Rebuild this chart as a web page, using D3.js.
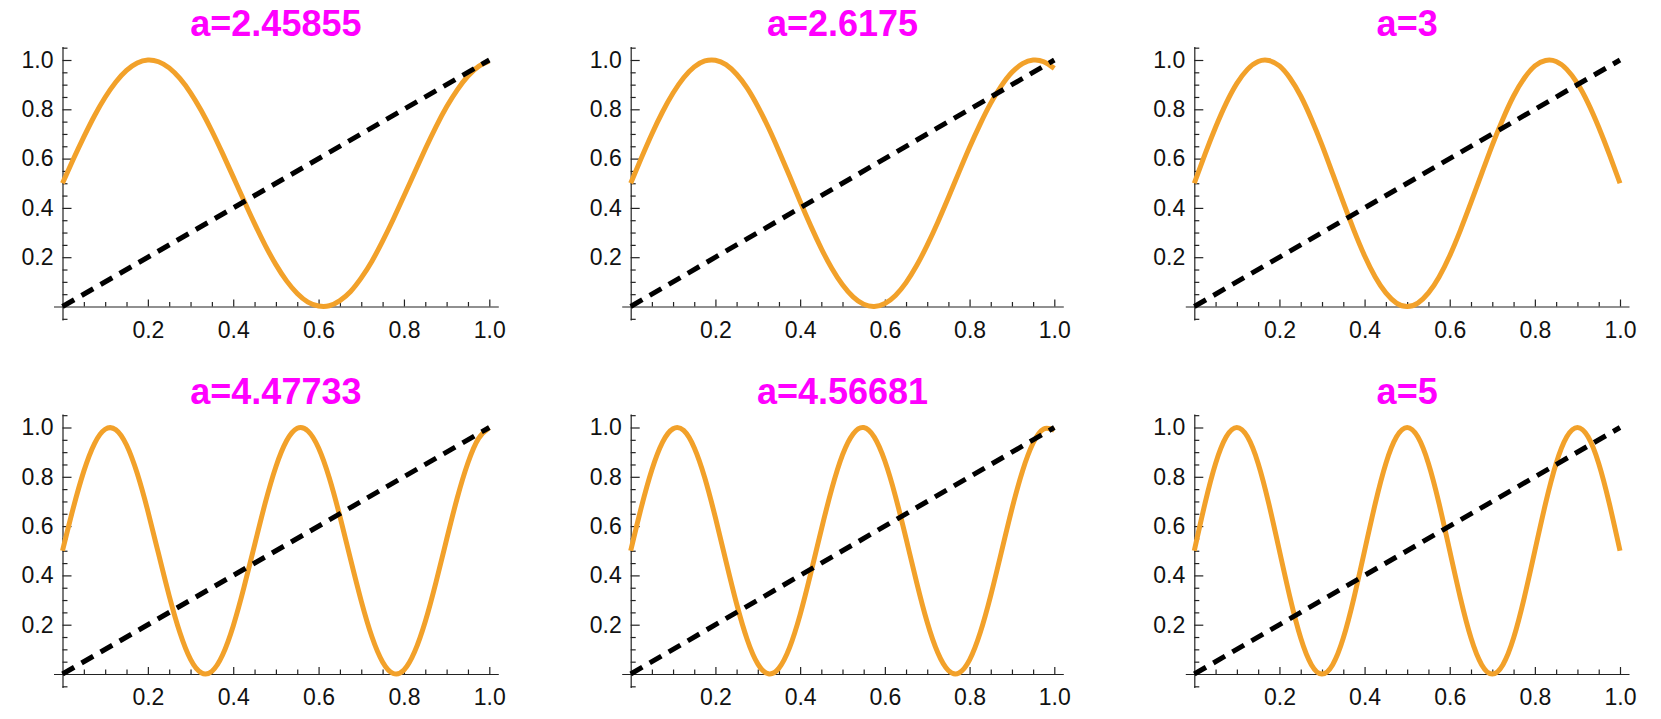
<!DOCTYPE html>
<html>
<head>
<meta charset="utf-8">
<script src="https://cdn.jsdelivr.net/npm/d3@7"></script>
<style>
  body { margin: 0; background: #fff; }
  svg { display: block; }
  .tick text { font-family: "Liberation Sans", Arial, sans-serif; font-size: 23px; fill: #111; }
</style>
</head>
<body>
<svg id="chart" width="1661" height="719"></svg>
<script>
// panel titles
var titles = ["a=2.45855", "a=2.6175", "a=3", "a=4.47733", "a=4.56681", "a=5"];

// sample positions along x
var xs = [0, 0.025, 0.05, 0.075, 0.1, 0.125, 0.15, 0.175, 0.2, 0.225,
          0.25, 0.275, 0.3, 0.325, 0.35, 0.375, 0.4, 0.425, 0.45, 0.475,
          0.5, 0.525, 0.55, 0.575, 0.6, 0.625, 0.65, 0.675, 0.7, 0.725,
          0.75, 0.775, 0.8, 0.825, 0.85, 0.875, 0.9, 0.925, 0.95, 0.975, 1];

// orange curve values, one array per panel
var curveA1 = [0.5, 0.596, 0.688, 0.774, 0.849, 0.911, 0.958, 0.988, 1.000, 0.993,
               0.968, 0.925, 0.867, 0.795, 0.712, 0.621, 0.526, 0.430, 0.336, 0.248,
               0.170, 0.104, 0.053, 0.018, 0.002, 0.003, 0.024, 0.061, 0.116, 0.184,
               0.265, 0.354, 0.448, 0.544, 0.639, 0.729, 0.810, 0.879, 0.935, 0.974, 0.996];
var curveA2 = [0.5, 0.602, 0.700, 0.789, 0.866, 0.928, 0.972, 0.996, 0.999, 0.981,
               0.942, 0.886, 0.812, 0.726, 0.630, 0.529, 0.426, 0.327, 0.235, 0.154,
               0.088, 0.039, 0.009, 0.000, 0.012, 0.045, 0.097, 0.166, 0.249, 0.342,
               0.442, 0.545, 0.646, 0.740, 0.825, 0.895, 0.950, 0.985, 1.000, 0.993, 0.966];
var curveA3 = [0.5, 0.617, 0.727, 0.825, 0.905, 0.962, 0.994, 0.998, 0.976, 0.926,
               0.854, 0.761, 0.655, 0.539, 0.422, 0.309, 0.206, 0.120, 0.055, 0.014,
               0.000, 0.014, 0.055, 0.120, 0.206, 0.309, 0.422, 0.539, 0.655, 0.761,
               0.854, 0.926, 0.976, 0.998, 0.994, 0.962, 0.905, 0.825, 0.727, 0.617, 0.5];
var curveA4 = [0.5, 0.672, 0.823, 0.935, 0.993, 0.991, 0.929, 0.814, 0.661, 0.488,
               0.317, 0.168, 0.059, 0.005, 0.011, 0.077, 0.195, 0.350, 0.523, 0.694,
               0.841, 0.946, 0.997, 0.986, 0.917, 0.796, 0.639, 0.465, 0.296, 0.151,
               0.049, 0.002, 0.016, 0.090, 0.213, 0.372, 0.546, 0.715, 0.857, 0.956, 0.999];
var curveA5 = [0.5, 0.676, 0.829, 0.940, 0.995, 0.988, 0.918, 0.795, 0.634, 0.457,
               0.285, 0.140, 0.041, 0.001, 0.024, 0.107, 0.241, 0.408, 0.586, 0.753,
               0.889, 0.974, 1.000, 0.961, 0.864, 0.721, 0.550, 0.372, 0.210, 0.086,
               0.014, 0.004, 0.057, 0.167, 0.319, 0.494, 0.670, 0.824, 0.937, 0.994, 0.989];
var curveA6 = [0.5, 0.691, 0.854, 0.962, 1.000, 0.962, 0.854, 0.691, 0.5, 0.309,
               0.146, 0.038, 0.000, 0.038, 0.146, 0.309, 0.5, 0.691, 0.854, 0.962,
               1.000, 0.962, 0.854, 0.691, 0.5, 0.309, 0.146, 0.038, 0.000, 0.038,
               0.146, 0.309, 0.5, 0.691, 0.854, 0.962, 1.000, 0.962, 0.854, 0.691, 0.5];
var curves = [curveA1, curveA2, curveA3, curveA4, curveA5, curveA6];

// the dashed reference line y = x
var diagX = [0, 1];
var diagY = [0, 1];

// ticks
var majorTicks = [0.2, 0.4, 0.6, 0.8, 1.0];
var minorX = d3.range(1, 20).map(function(i) { return i * 0.05; })
    .filter(function(v) { return Math.abs(v * 5 - Math.round(v * 5)) > 1e-6; });
var minorY = minorX.concat([-0.05, 1.05]);

// layout (pixel positions of x=0 / x=1 and y=1 / y=0 per column and row)
var colLeft = [62.5, 630.7, 1194.3];
var colRight = [489.3, 1054.3, 1620];
var rowTop = [60, 427.5];
var rowBottom = [306.5, 674];
var titleBase = [36, 404];

var orange = "#f2a12a";
var svg = d3.select("#chart");
var fmt = d3.format(".1f");

titles.forEach(function(title, i) {
    var col = i % 3, row = Math.floor(i / 3);
    var x0 = colLeft[col], x1 = colRight[col];
    var y1 = rowTop[row], y0 = rowBottom[row];
    var padX = 9 / (x1 - x0);
    var unitY = y0 - y1;

    var xScale = d3.scaleLinear().domain([-padX, 1 + padX]).range([x0 - 9, x1 + 9]);
    var yScale = d3.scaleLinear().domain([-0.055, 1.055]).range([y0 + 0.055 * unitY, y1 - 0.055 * unitY]);

    var g = svg.append("g").attr("class", "panel" + i);

    // x axis: major ticks with labels, minor ticks without
    g.append("g").attr("transform", "translate(0," + yScale(0) + ")")
        .call(d3.axisBottom(xScale).tickValues(majorTicks).tickFormat(fmt)
              .tickSizeInner(-7).tickSizeOuter(0).tickPadding(15));
    g.append("g").attr("transform", "translate(0," + yScale(0) + ")")
        .call(d3.axisBottom(xScale).tickValues(minorX).tickFormat("")
              .tickSizeInner(-4.5).tickSizeOuter(0))
        .select(".domain").remove();

    // y axis
    g.append("g").attr("transform", "translate(" + xScale(0) + ",0)")
        .call(d3.axisLeft(yScale).tickValues(majorTicks).tickFormat(fmt)
              .tickSizeInner(-9).tickSizeOuter(0).tickPadding(9));
    g.append("g").attr("transform", "translate(" + xScale(0) + ",0)")
        .call(d3.axisLeft(yScale).tickValues(minorY).tickFormat("")
              .tickSizeInner(-5).tickSizeOuter(0))
        .select(".domain").remove();

    g.selectAll(".domain, .tick line").attr("stroke", "#222").attr("stroke-width", 1.2);
    g.selectAll(".tick text").attr("fill", "#111");

    // orange curve
    var line = d3.line()
        .x(function(d, k) { return xScale(xs[k]); })
        .y(function(d) { return yScale(d); })
        .curve(d3.curveNatural);
    g.append("path")
        .datum(curves[i])
        .attr("d", line)
        .attr("fill", "none")
        .attr("stroke", orange)
        .attr("stroke-width", 5);

    // dashed diagonal
    var diag = d3.line()
        .x(function(d, k) { return xScale(diagX[k]); })
        .y(function(d) { return yScale(d); });
    g.append("path")
        .datum(diagY)
        .attr("d", diag)
        .attr("fill", "none")
        .attr("stroke", "#000")
        .attr("stroke-width", 5)
        .attr("stroke-dasharray", "13.5,8.5");

    // title
    g.append("text")
        .attr("x", (x0 + x1) / 2)
        .attr("y", titleBase[row])
        .attr("text-anchor", "middle")
        .attr("font-family", "'Liberation Sans', Arial, sans-serif")
        .attr("font-weight", "bold")
        .attr("font-size", 36)
        .attr("fill", "#ff00ff")
        .text(title);
});
</script>
</body>
</html>
